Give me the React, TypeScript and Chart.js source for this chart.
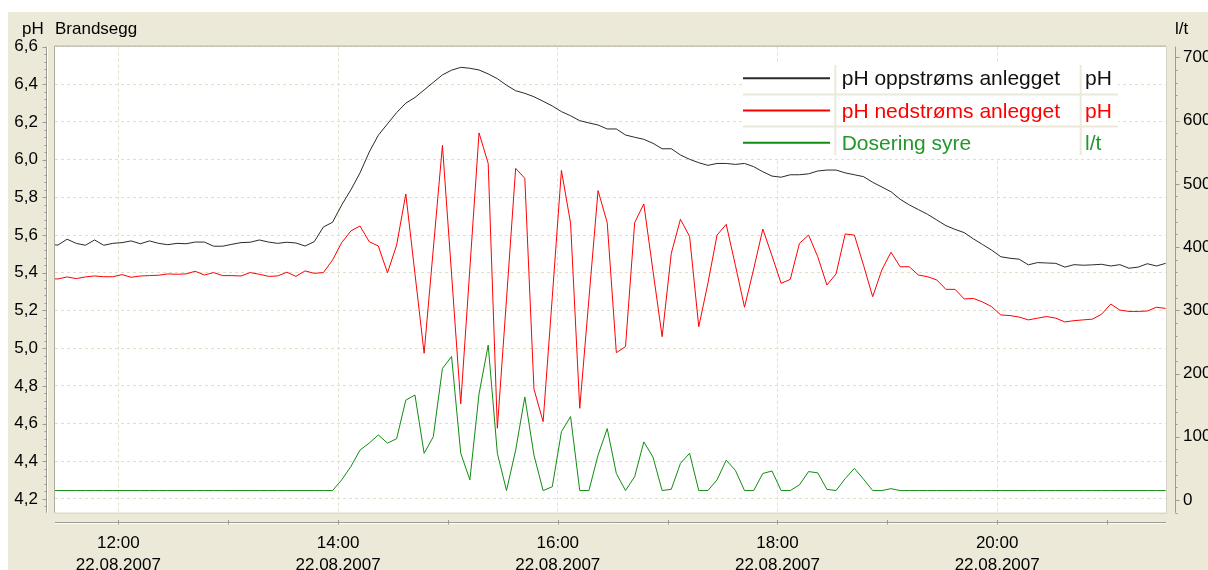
import React, { useEffect, useRef } from "react";
import { Chart, registerables } from "chart.js";

Chart.register(...registerables);

// ---- sampling grid (minutes after midnight, 22.08.2007) ----
const START_MINUTE = 11 * 60 + 22;
const STEP_MINUTES = 5;

// ---- series values ----
const phUpstream = [
  5.55, 5.547, 5.578, 5.556, 5.546, 5.574, 5.546, 5.556, 5.56, 5.569,
  5.554, 5.569, 5.556, 5.549, 5.556, 5.554, 5.563, 5.563, 5.541, 5.541,
  5.551, 5.56, 5.562, 5.574, 5.563, 5.556, 5.562, 5.558, 5.542, 5.565,
  5.643, 5.668, 5.76, 5.84, 5.93, 6.04, 6.13, 6.19, 6.25, 6.3,
  6.33, 6.37, 6.41, 6.45, 6.475, 6.49, 6.485, 6.476, 6.455, 6.43,
  6.395, 6.366, 6.352, 6.334, 6.31, 6.285, 6.255, 6.233, 6.207, 6.195,
  6.184, 6.163, 6.163, 6.131, 6.119, 6.108, 6.087, 6.058, 6.058, 6.025,
  6.002, 5.984, 5.97, 5.98, 5.98, 5.975, 5.98, 5.963, 5.936, 5.913,
  5.907, 5.92, 5.92, 5.925, 5.94, 5.945, 5.945, 5.93, 5.92, 5.91,
  5.88, 5.855, 5.83, 5.79, 5.76, 5.735, 5.71, 5.68, 5.65, 5.63,
  5.613, 5.58, 5.55, 5.52, 5.485, 5.477, 5.472, 5.442, 5.454, 5.452,
  5.45, 5.43, 5.443, 5.44, 5.442, 5.445, 5.436, 5.443, 5.424, 5.43,
  5.448, 5.436, 5.45,
];

const phDownstream = [
  5.37, 5.367, 5.378, 5.369, 5.378, 5.383, 5.379, 5.379, 5.39, 5.376,
  5.383, 5.385, 5.387, 5.394, 5.392, 5.394, 5.408, 5.388, 5.401, 5.385,
  5.385, 5.383, 5.401, 5.392, 5.381, 5.383, 5.403, 5.381, 5.41, 5.397,
  5.401, 5.468, 5.56, 5.622, 5.648, 5.565, 5.542, 5.4, 5.547, 5.818,
  5.395, 4.973, 5.525, 6.076, 5.393, 4.705, 5.424, 6.142, 5.98, 4.575,
  5.26, 5.954, 5.901, 4.783, 4.61, 5.27, 5.943, 5.663, 4.681, 5.26,
  5.836, 5.666, 4.976, 5.008, 5.666, 5.765, 5.41, 5.061, 5.503, 5.684,
  5.592, 5.114, 5.344, 5.6, 5.657, 5.44, 5.217, 5.42, 5.632, 5.49,
  5.344, 5.365, 5.556, 5.6, 5.485, 5.335, 5.394, 5.606, 5.6, 5.44,
  5.273, 5.415, 5.509, 5.432, 5.432, 5.388, 5.379, 5.362, 5.312, 5.312,
  5.261, 5.264, 5.245, 5.22, 5.176, 5.173, 5.165, 5.15, 5.159, 5.168,
  5.159, 5.139, 5.146, 5.15, 5.154, 5.18, 5.234, 5.202, 5.195, 5.195,
  5.197, 5.217, 5.211,
];

const acidDosing = [
  15, 15, 15, 15, 15, 15, 15, 15, 15, 15,
  15, 15, 15, 15, 15, 15, 15, 15, 15, 15,
  15, 15, 15, 15, 15, 15, 15, 15, 15, 15,
  15, 15, 32, 53, 79, 90, 103, 90, 97, 158,
  166, 74, 100, 208, 227, 74, 32, 168, 245, 74,
  15, 79, 163, 71, 15, 21, 108, 132, 15, 15,
  71, 113, 42, 15, 37, 92, 68, 15, 17, 58,
  74, 15, 15, 32, 63, 47, 15, 15, 42, 46,
  15, 15, 24, 45, 43, 17, 15, 34, 50, 33,
  15, 15, 18, 15, 15, 15, 15, 15, 15, 15,
  15, 15, 15, 15, 15, 15, 15, 15, 15, 15,
  15, 15, 15, 15, 15, 15, 15, 15, 15, 15,
  15, 15, 15,
];

// ---- legend / labels ----
const seriesNames = ["pH oppstrøms anlegget", "pH nedstrøms anlegget", "Dosering syre"];
const seriesUnits = ["pH", "pH", "l/t"];
const chartTitle = "Brandsegg";
const leftUnit = "pH";
const rightUnit = "l/t";

// ---- ticks ----
const timeTicks = [720, 840, 960, 1080, 1200];
const timeTickLabels = ["12:00", "14:00", "16:00", "18:00", "20:00"];
const dateLabel = "22.08.2007";
const hourMarks = [720, 780, 840, 900, 960, 1020, 1080, 1140, 1200, 1260];
const phTicks = [4.2, 4.4, 4.6, 4.8, 5.0, 5.2, 5.4, 5.6, 5.8, 6.0, 6.2, 6.4, 6.6];
const phTickLabels = ["4,2", "4,4", "4,6", "4,8", "5,0", "5,2", "5,4", "5,6", "5,8", "6,0", "6,2", "6,4", "6,6"];
const flowTicks = [0, 100, 200, 300, 400, 500, 600, 700];
const flowTickLabels = ["0", "100", "200", "300", "400", "500", "600", "700"];
const PH_MINOR_STEP = 0.04;
const FLOW_MINOR_STEP = 20;

// ---- axis ranges ----
const X_MIN = 685.4;
const X_MAX = 1292.2;
const PH_MIN = 4.127;
const PH_MAX = 6.6;
const FLOW_MIN = -20;
const FLOW_MAX = 717;

// ---- styles ----
const FONT = "Liberation Sans";
const AXIS_FONT_SIZE = 17;
const LEGEND_FONT_SIZE = 21;
const BEIGE = "#ECE9D8";
const GRID = "#E2DEC8";
const lineColors = ["#2a2a2a", "#ff0000", "#118c11"];
const textColors = ["#111111", "#ff0000", "#22982a"];

const toPoints = (vals: number[]) =>
  vals.map((v, i) => ({ x: START_MINUTE + i * STEP_MINUTES, y: v }));

const decorPlugin = {
  id: "decor",
  beforeDraw(chart: any) {
    const { ctx, chartArea: a, width, height } = chart;
    ctx.save();
    ctx.fillStyle = BEIGE;
    ctx.fillRect(0, 0, width, height);
    ctx.fillStyle = "#ffffff";
    ctx.fillRect(a.left, a.top, a.right - a.left, a.bottom - a.top);
    ctx.restore();
  },
  afterDatasetsDraw(chart: any) {
    const { ctx } = chart;
    const L = {
      left: 735, right: 1110, top: 51, bottom: 146,
      sampleStart: 735, sampleEnd: 822,
      col1: 827.3, col2: 1072.7,
      textX: 833.7, unitX: 1077,
      firstRow: 66.3, rowStep: 32.2, baseOffset: 7,
    };
    ctx.save();
    ctx.fillStyle = "#ffffff";
    ctx.fillRect(L.left, L.top, L.right - L.left, L.bottom - L.top);
    ctx.strokeStyle = BEIGE;
    ctx.lineWidth = 2;
    for (let k = 1; k < seriesNames.length; k++) {
      const y = L.firstRow + (k - 0.5) * L.rowStep;
      ctx.beginPath();
      ctx.moveTo(L.left, y);
      ctx.lineTo(L.right, y);
      ctx.stroke();
    }
    [L.col1, L.col2].forEach((x) => {
      ctx.beginPath();
      ctx.moveTo(x, L.top + 2);
      ctx.lineTo(x, L.bottom - 3);
      ctx.stroke();
    });
    ctx.font = `${LEGEND_FONT_SIZE}px "${FONT}"`;
    ctx.textBaseline = "alphabetic";
    ctx.textAlign = "left";
    seriesNames.forEach((name, k) => {
      const y = L.firstRow + k * L.rowStep;
      ctx.strokeStyle = lineColors[k];
      ctx.lineWidth = 2;
      ctx.beginPath();
      ctx.moveTo(L.sampleStart, y);
      ctx.lineTo(L.sampleEnd, y);
      ctx.stroke();
      ctx.fillStyle = textColors[k];
      ctx.fillText(name, L.textX, y + L.baseOffset);
      ctx.fillText(seriesUnits[k], L.unitX, y + L.baseOffset);
    });
    ctx.restore();
  },
  afterDraw(chart: any) {
    const { ctx, chartArea: a } = chart;
    const xs = chart.scales.x;
    const yl = chart.scales.y;
    const yr = chart.scales.y1;
    ctx.save();
    ctx.lineWidth = 1;
    // plot frame
    ctx.strokeStyle = "#aeaba0";
    ctx.beginPath();
    ctx.moveTo(a.left - 0.5, a.bottom);
    ctx.lineTo(a.left - 0.5, a.top - 0.5);
    ctx.lineTo(a.right, a.top - 0.5);
    ctx.stroke();
    ctx.strokeStyle = "#d6d3c6";
    ctx.beginPath();
    ctx.moveTo(a.right + 0.5, a.top);
    ctx.lineTo(a.right + 0.5, a.bottom + 0.5);
    ctx.lineTo(a.left, a.bottom + 0.5);
    ctx.stroke();

    const rulerDark = "#9c9a92";
    // left ruler
    const lx = 38.5;
    ctx.strokeStyle = rulerDark;
    ctx.beginPath();
    ctx.moveTo(lx, a.top);
    ctx.lineTo(lx, a.bottom);
    ctx.stroke();
    ctx.strokeStyle = "#ffffff";
    ctx.beginPath();
    ctx.moveTo(lx + 1, a.top);
    ctx.lineTo(lx + 1, a.bottom);
    ctx.stroke();
    ctx.strokeStyle = rulerDark;
    for (let k = Math.ceil(PH_MIN / PH_MINOR_STEP); k <= Math.floor(PH_MAX / PH_MINOR_STEP + 1e-6); k++) {
      const v = k * PH_MINOR_STEP;
      const y = Math.round(yl.getPixelForValue(v)) + 0.5;
      const major = Math.abs(v / 0.2 - Math.round(v / 0.2)) < 1e-6;
      ctx.beginPath();
      ctx.moveTo(lx - (major ? 4 : 2), y);
      ctx.lineTo(lx, y);
      ctx.stroke();
    }
    // right ruler
    const rx = 1167.5;
    ctx.strokeStyle = rulerDark;
    ctx.beginPath();
    ctx.moveTo(rx, a.top);
    ctx.lineTo(rx, a.bottom);
    ctx.stroke();
    for (let v = FLOW_MIN; v <= FLOW_MAX; v += FLOW_MINOR_STEP) {
      const y = Math.round(yr.getPixelForValue(v)) + 0.5;
      const major = v % 100 === 0;
      ctx.beginPath();
      ctx.moveTo(rx, y);
      ctx.lineTo(rx + (major ? 4 : 2), y);
      ctx.stroke();
    }
    // bottom time ruler
    const by = 510.5;
    ctx.strokeStyle = rulerDark;
    ctx.beginPath();
    ctx.moveTo(a.left, by);
    ctx.lineTo(a.right, by);
    ctx.stroke();
    ctx.strokeStyle = "#ffffff";
    ctx.beginPath();
    ctx.moveTo(a.left, by + 1);
    ctx.lineTo(a.right, by + 1);
    ctx.stroke();
    ctx.strokeStyle = rulerDark;
    hourMarks.forEach((m) => {
      const x = Math.round(xs.getPixelForValue(m)) + 0.5;
      ctx.beginPath();
      ctx.moveTo(x, by - 2.5);
      ctx.lineTo(x, by + 2);
      ctx.stroke();
    });
    // titles
    ctx.fillStyle = "#000000";
    ctx.font = `${AXIS_FONT_SIZE}px "${FONT}"`;
    ctx.textBaseline = "alphabetic";
    ctx.textAlign = "left";
    ctx.fillText(leftUnit, 14, 21.5);
    ctx.fillText(chartTitle, 47, 21.5);
    ctx.fillText(rightUnit, 1167, 21.5);
    ctx.restore();
  },
};

export default function App() {
  const canvasRef = useRef<HTMLCanvasElement | null>(null);

  useEffect(() => {
    const canvas = canvasRef.current;
    if (!canvas) return;
    const tickFont = { family: FONT, size: AXIS_FONT_SIZE, lineHeight: 22 / AXIS_FONT_SIZE };
    const chart = new Chart(canvas, {
      type: "line",
      data: {
        datasets: [
          {
            label: seriesNames[0],
            data: toPoints(phUpstream),
            borderColor: lineColors[0],
            borderWidth: 1,
            pointRadius: 0,
            tension: 0,
            yAxisID: "y",
          },
          {
            label: seriesNames[1],
            data: toPoints(phDownstream),
            borderColor: lineColors[1],
            borderWidth: 1,
            pointRadius: 0,
            tension: 0,
            yAxisID: "y",
          },
          {
            label: seriesNames[2],
            data: toPoints(acidDosing),
            borderColor: lineColors[2],
            borderWidth: 1,
            pointRadius: 0,
            tension: 0,
            yAxisID: "y1",
          },
        ],
      },
      options: {
        animation: false,
        responsive: false,
        devicePixelRatio: 1,
        events: [],
        layout: { padding: { left: 0, right: 0, top: 34.6, bottom: 0 } },
        plugins: { legend: { display: false }, tooltip: { enabled: false }, title: { display: false } },
        scales: {
          x: {
            type: "linear",
            position: "bottom",
            min: X_MIN,
            max: X_MAX,
            bounds: "data",
            afterBuildTicks: (s: any) => {
              s.ticks = timeTicks.map((v) => ({ value: v }));
            },
            afterFit: (s: any) => {
              s.height = 57.3;
            },
            grid: { color: GRID, lineWidth: 1, drawTicks: false },
            border: { display: false, dash: [3, 3] },
            ticks: {
              autoSkip: false,
              maxRotation: 0,
              minRotation: 0,
              padding: 20,
              color: "#000000",
              font: tickFont,
              callback: (_v: any, i: number) => [timeTickLabels[i], dateLabel],
            },
          },
          y: {
            type: "linear",
            position: "left",
            min: PH_MIN,
            max: PH_MAX,
            bounds: "data",
            afterBuildTicks: (s: any) => {
              s.ticks = phTicks.map((v) => ({ value: v }));
            },
            afterFit: (s: any) => {
              s.width = 47;
            },
            grid: { color: GRID, lineWidth: 1, drawTicks: false },
            border: { display: false, dash: [3, 3] },
            ticks: {
              padding: 17,
              color: "#000000",
              font: { family: FONT, size: AXIS_FONT_SIZE },
              callback: (_v: any, i: number) => phTickLabels[i],
            },
          },
          y1: {
            type: "linear",
            position: "right",
            min: FLOW_MIN,
            max: FLOW_MAX,
            bounds: "data",
            afterBuildTicks: (s: any) => {
              s.ticks = flowTicks.map((v) => ({ value: v }));
            },
            afterFit: (s: any) => {
              s.width = 42;
            },
            grid: { display: false, drawTicks: false },
            border: { display: false },
            ticks: {
              padding: 17,
              color: "#000000",
              font: { family: FONT, size: AXIS_FONT_SIZE },
              callback: (_v: any, i: number) => flowTickLabels[i],
            },
          },
        },
      },
      plugins: [decorPlugin],
    });
    return () => chart.destroy();
  }, []);

  return (
    <div style={{ position: "fixed", left: 8, top: 12, width: 1200, height: 558 }}>
      <canvas ref={canvasRef} width={1200} height={558} style={{ display: "block", width: 1200, height: 558 }} />
    </div>
  );
}
